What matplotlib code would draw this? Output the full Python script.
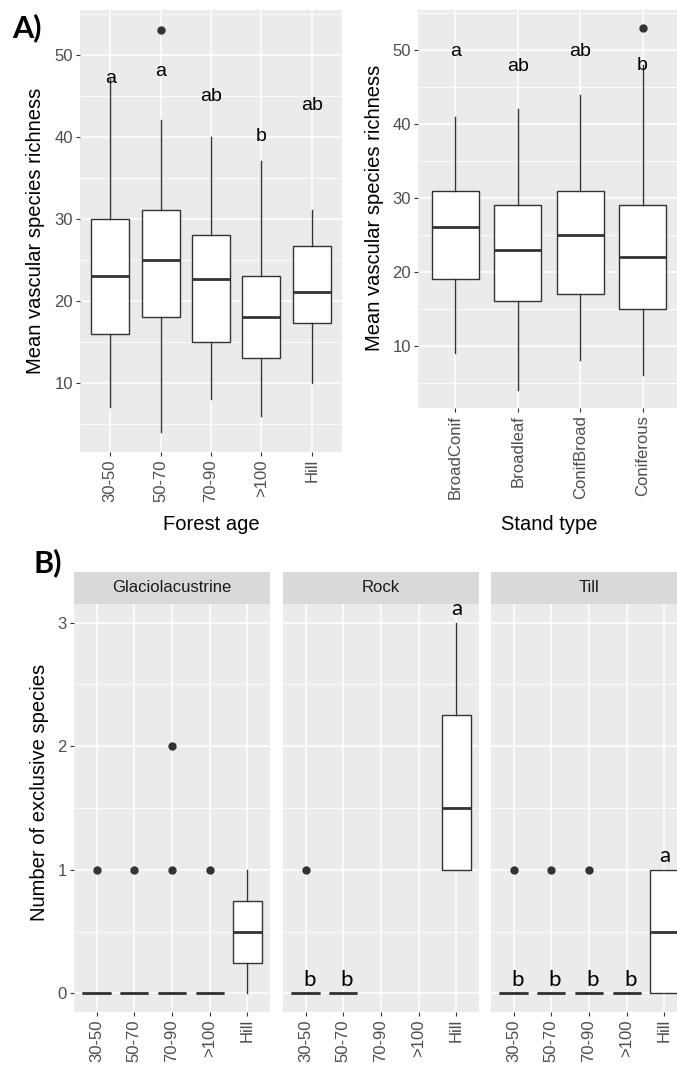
import matplotlib.pyplot as plt
from matplotlib.ticker import MultipleLocator

plt.rcParams['font.family'] = ['Liberation Sans', 'DejaVu Sans']

# ---- panel A, left: forest age
age_groups = ['30-50', '50-70', '70-90', '>100', 'Hill']
age_whislo = [7, 4, 8, 6, 10]
age_q1 = [16, 18, 15, 13, 17.3]
age_med = [23, 25, 22.7, 18, 21.1]
age_q3 = [30, 31, 28, 23, 26.7]
age_whishi = [47, 42, 40, 37, 31]
age_fliers = [[], [53], [], [], []]
age_letters = ['a', 'a', 'ab', 'b', 'ab']
age_letter_y = [46.6, 47.4, 44.4, 39.5, 43.2]

# ---- panel A, right: stand type
stand_types = ['BroadConif', 'Broadleaf', 'ConifBroad', 'Coniferous']
stand_whislo = [9, 4, 8, 6]
stand_q1 = [19, 16, 17, 15]
stand_med = [26, 23, 25, 22]
stand_q3 = [31, 29, 31, 29]
stand_whishi = [41, 42, 44, 48]
stand_fliers = [[], [], [], [53]]
stand_letters = ['a', 'ab', 'ab', 'b']
stand_letter_y = [49.2, 47.2, 49.2, 47.3]

# ---- panel B: exclusive species by substrate (None = no data)
substrates = ['Glaciolacustrine', 'Rock', 'Till']
excl_whislo = [[0, 0, 0, 0, 0], [0, 0, None, None, 1], [0, 0, 0, 0, 0]]
excl_q1 = [[0, 0, 0, 0, 0.25], [0, 0, None, None, 1], [0, 0, 0, 0, 0]]
excl_med = [[0, 0, 0, 0, 0.5], [0, 0, None, None, 1.5], [0, 0, 0, 0, 0.5]]
excl_q3 = [[0, 0, 0, 0, 0.75], [0, 0, None, None, 2.25], [0, 0, 0, 0, 1]]
excl_whishi = [[0, 0, 0, 0, 1], [0, 0, None, None, 3], [0, 0, 0, 0, 1]]
excl_fliers = [[[1], [1], [1, 2], [1], []],
               [[1], [], None, None, []],
               [[1], [1], [1], [], []]]
excl_letters = [['', '', '', '', ''],
                ['b', 'b', '', '', 'a'],
                ['b', 'b', 'b', 'b', 'a']]

W, H = 677, 1069
fig = plt.figure(figsize=(W / 100, H / 100), dpi=100)


def px_axes(x0, y0, x1, y1):
    return fig.add_axes([x0 / W, 1 - y1 / H, (x1 - x0) / W, (y1 - y0) / H])


def gg_style(ax):
    ax.set_facecolor('#EBEBEB')
    for s in ax.spines.values():
        s.set_visible(False)
    ax.grid(which='major', color='white', lw=1.1)
    ax.grid(which='minor', axis='y', color='white', lw=0.55)
    ax.set_axisbelow(True)
    ax.tick_params(which='major', length=3, width=0.8, color='#333333',
                   labelcolor='#4D4D4D', labelsize=12, pad=2.2)
    ax.tick_params(which='minor', length=0)


def draw_boxes(ax, whislo, q1, med, q3, whishi, fliers):
    stats, pos = [], []
    for i in range(len(med)):
        if med[i] is None:
            continue
        stats.append(dict(whislo=whislo[i], q1=q1[i], med=med[i], q3=q3[i],
                          whishi=whishi[i], fliers=fliers[i]))
        pos.append(i + 1)
    ax.bxp(stats, positions=pos, widths=0.75, showcaps=False, patch_artist=True,
           manage_ticks=False,
           boxprops=dict(facecolor='white', edgecolor='#333333', lw=1.0),
           medianprops=dict(color='#333333', lw=2.0, solid_capstyle='butt'),
           whiskerprops=dict(color='#333333', lw=1.0),
           flierprops=dict(marker='o', markerfacecolor='#333333',
                           markeredgecolor='#333333', markersize=5))


def cat_axis(ax, labels):
    ax.set_xlim(0.4, len(labels) + 0.6)
    ax.set_xticks(range(1, len(labels) + 1))
    ax.set_xticklabels(labels, rotation=90)


# ---- A left
ax1 = px_axes(80, 10, 342, 452)
gg_style(ax1)
draw_boxes(ax1, age_whislo, age_q1, age_med, age_q3, age_whishi, age_fliers)
cat_axis(ax1, age_groups)
ax1.set_ylim(1.55, 55.45)
ax1.yaxis.set_major_locator(MultipleLocator(10))
ax1.yaxis.set_minor_locator(MultipleLocator(5))
for i, (lt, ly) in enumerate(zip(age_letters, age_letter_y)):
    ax1.text(i + 1, ly, lt, ha='center', va='baseline', fontsize=14)

# ---- A right
ax2 = px_axes(418, 10, 680, 408)
gg_style(ax2)
draw_boxes(ax2, stand_whislo, stand_q1, stand_med, stand_q3, stand_whishi, stand_fliers)
cat_axis(ax2, stand_types)
ax2.set_ylim(1.55, 55.45)
ax2.yaxis.set_major_locator(MultipleLocator(10))
ax2.yaxis.set_minor_locator(MultipleLocator(5))
for i, (lt, ly) in enumerate(zip(stand_letters, stand_letter_y)):
    ax2.text(i + 1, ly, lt, ha='center', va='baseline', fontsize=14)

fig.text(36 / W, 1 - 231 / H, 'Mean vascular species richness', rotation=90,
         ha='center', va='center', fontsize=14.5)
fig.text(375 / W, 1 - 208 / H, 'Mean vascular species richness', rotation=90,
         ha='center', va='center', fontsize=14.5)
fig.text(211 / W, 1 - 525 / H, 'Forest age', ha='center', va='center', fontsize=14.5)
fig.text(549 / W, 1 - 525 / H, 'Stand type', ha='center', va='center', fontsize=14.5)

# ---- B facets
lefts = [74, 283, 491]
for k, name in enumerate(substrates):
    x0 = lefts[k]
    ax = px_axes(x0, 604, x0 + 196, 1012)
    gg_style(ax)
    draw_boxes(ax, excl_whislo[k], excl_q1[k], excl_med[k], excl_q3[k],
               excl_whishi[k], excl_fliers[k])
    cat_axis(ax, age_groups)
    ax.set_ylim(-0.15, 3.15)
    ax.yaxis.set_major_locator(MultipleLocator(1))
    ax.yaxis.set_minor_locator(MultipleLocator(0.5))
    if k > 0:
        ax.tick_params(axis='y', which='both', left=False, labelleft=False)
    for i, lt in enumerate(excl_letters[k]):
        if lt:
            dx = 0.1 if lt == 'b' else 0
            ax.text(i + 1 + dx, excl_whishi[k][i] + 0.06, lt, ha='center',
                    va='baseline', fontsize=16, family=['Lato', 'DejaVu Sans'])
    strip = px_axes(x0, 572, x0 + 196, 604)
    strip.set_facecolor('#D9D9D9')
    strip.set_xticks([])
    strip.set_yticks([])
    for s in strip.spines.values():
        s.set_visible(False)
    strip.text(0.5, 0.5, name, ha='center', va='center', fontsize=12,
               color='#1A1A1A', transform=strip.transAxes)

fig.text(40 / W, 1 - 792 / H, 'Number of exclusive species', rotation=90,
         ha='center', va='center', fontsize=14.5)

fig.text(12 / W, 1 - 28 / H, 'A)', fontsize=22, fontweight='bold',
         family=['Lato', 'DejaVu Sans'], va='center', ha='left')
fig.text(34 / W, 1 - 563 / H, 'B)', fontsize=22, fontweight='bold',
         family=['Lato', 'DejaVu Sans'], va='center', ha='left')

fig.savefig('out.png', dpi=100)
